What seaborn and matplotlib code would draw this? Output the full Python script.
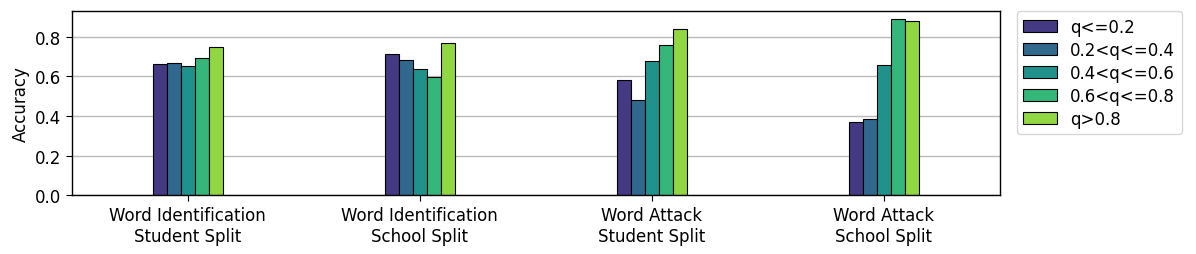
import pandas as pd
import matplotlib
matplotlib.use("Agg")
import matplotlib.pyplot as plt
import seaborn as sns

# Data
splits = [
    "Word Identification\nStudent Split",
    "Word Identification\nSchool Split",
    "Word Attack\nStudent Split",
    "Word Attack\nSchool Split",
]
bins = ["q<=0.2", "0.2<q<=0.4", "0.4<q<=0.6", "0.6<q<=0.8", "q>0.8"]
acc_q1 = [0.663, 0.714, 0.582, 0.371]
acc_q2 = [0.667, 0.682, 0.481, 0.383]
acc_q3 = [0.653, 0.636, 0.677, 0.658]
acc_q4 = [0.695, 0.599, 0.758, 0.888]
acc_q5 = [0.748, 0.770, 0.839, 0.881]

# Build long-format table
rows = []
for b, vals in zip(bins, [acc_q1, acc_q2, acc_q3, acc_q4, acc_q5]):
    for s, v in zip(splits, vals):
        rows.append({"split": s, "bin": b, "accuracy": v})
df = pd.DataFrame(rows)

sns.set_style("white")
plt.rcParams['font.family'] = ['DejaVu Sans']
plt.rcParams['text.color'] = 'black'
plt.rcParams['axes.labelcolor'] = 'black'
plt.rcParams['xtick.color'] = 'black'
plt.rcParams['ytick.color'] = 'black'

fig, ax = plt.subplots(figsize=(11.96, 2.55), dpi=100)
sns.barplot(data=df, x="split", y="accuracy", hue="bin", order=splits,
            hue_order=bins, palette="viridis", width=0.3, saturation=1,
            edgecolor="black", linewidth=0.8, ax=ax)

ax.set_xlim(-0.5, 3.5)
ax.set_ylim(0, 0.93)
ax.set_yticks([0.0, 0.2, 0.4, 0.6, 0.8])
ax.yaxis.grid(True, color="#bbbbbb", linewidth=1)
ax.set_axisbelow(True)
ax.set_xlabel("")
ax.set_ylabel("Accuracy", fontsize=12)
ax.tick_params(axis="both", labelsize=12, length=4, bottom=True, left=True)
for sp in ax.spines.values():
    sp.set_color("black")
    sp.set_linewidth(1)

ax.legend(loc="upper left", bbox_to_anchor=(1.018, 1.0), fontsize=12,
          frameon=True, borderaxespad=0, labelspacing=0.3)

plt.subplots_adjust(left=0.06, right=0.836, top=0.953, bottom=0.23)
plt.savefig("out.png", dpi=100)
